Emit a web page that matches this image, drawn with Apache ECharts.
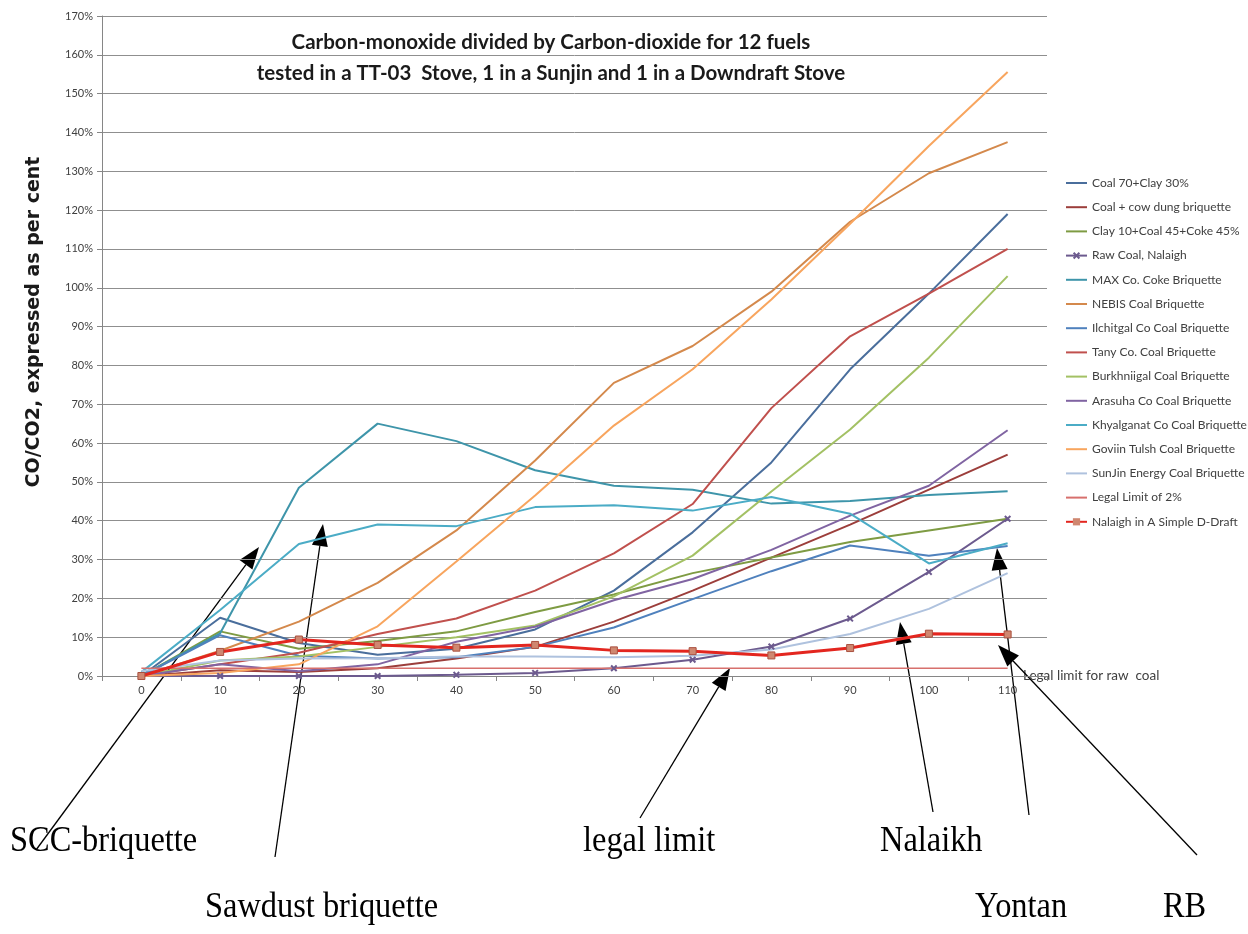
<!DOCTYPE html>
<html>
<head>
<meta charset="utf-8">
<title>CO/CO2 for 12 fuels</title>
<script src="https://cdn.jsdelivr.net/npm/echarts@6/dist/echarts.min.js"></script>
<style>
  html, body { margin: 0; padding: 0; background: #fff; }
  #chart { width: 1248px; height: 934px; }
</style>
</head>
<body>
<div id="chart"></div>
<script>
// x categories (minutes)
const xLabels = ['0', '10', '20', '30', '40', '50', '60', '70', '80', '90', '100', '110']

// CO/CO2 in per cent
const coal70Clay30 = [0, 15, 8.5, 5.5, 7, 12, 22, 37, 55, 79, 98.5, 119]
const coalCowDung = [0, 1.5, 1, 2, 4.5, 7.5, 14, 22, 30.5, 39, 48, 57]
const clay10Coal45 = [0, 11.5, 7, 9, 11.5, 16.5, 21, 26.5, 30.5, 34.5, 37.5, 40.5]
const rawCoal = [0, 0, 0, 0, 0.3, 0.8, 2, 4.2, 7.6, 14.8, 26.8, 40.5]
const maxCoke = [0, 11, 48.5, 65, 60.5, 53, 49, 48, 44.4, 45.1, 46.6, 47.6]
const nebis = [0, 6.5, 14, 24, 37.5, 55.5, 75.5, 85, 99, 117, 129.5, 137.5]
const ilchitgal = [0, 10.5, 5.2, 4.5, 4.8, 7.5, 12.5, 19.8, 27, 33.6, 31, 33.5]
const tany = [0, 3, 6, 10.8, 14.8, 22, 31.6, 44.3, 69, 87.5, 98.5, 110]
const burkhniigal = [0, 4, 5, 7.5, 10, 13, 20.5, 31, 47.5, 63.5, 82, 103]
const arasuha = [0, 3, 1.2, 3, 8.8, 12.7, 19.5, 25, 32.5, 41.3, 49, 63.3]
const khyalganat = [1, 17, 34, 39, 38.6, 43.5, 44, 42.6, 46.1, 41.8, 29, 34.2]
const goviin = [0, 0.8, 3, 12.8, 29.5, 46.5, 64.5, 79, 97, 116.5, 136.5, 155.6]
const sunjin = [1.2, 4, 4.5, 4.6, 5, 5, 4.8, 5.2, 6.8, 10.8, 17.3, 26.5]
const legalLimit = [2, 2, 2, 2, 2, 2, 2, 2, 2, 2, 2, 2]
const nalaighDDraft = [0, 6.2, 9.4, 8, 7.3, 8, 6.6, 6.4, 5.3, 7.2, 10.9, 10.7]

const seriesDefs = [
  { name: 'Coal 70+Clay 30%', data: coal70Clay30, color: '#4A6E9C' },
  { name: 'Coal + cow dung briquette', data: coalCowDung, color: '#9C3E3B' },
  { name: 'Clay 10+Coal 45+Coke 45%', data: clay10Coal45, color: '#7E9B43' },
  { name: 'Raw Coal, Nalaigh', data: rawCoal, color: '#6C5A8E', mark: 'cross' },
  { name: 'MAX Co. Coke Briquette', data: maxCoke, color: '#3E95AA' },
  { name: 'NEBIS Coal Briquette', data: nebis, color: '#D4894C' },
  { name: 'Ilchitgal Co Coal Briquette', data: ilchitgal, color: '#4F81BD' },
  { name: 'Tany Co. Coal Briquette', data: tany, color: '#C0504D' },
  { name: 'Burkhniigal Coal Briquette', data: burkhniigal, color: '#A3C164' },
  { name: 'Arasuha Co Coal Briquette', data: arasuha, color: '#8064A2' },
  { name: 'Khyalganat Co Coal Briquette', data: khyalganat, color: '#4BACC6' },
  { name: 'Goviin Tulsh Coal Briquette', data: goviin, color: '#F8A55E' },
  { name: 'SunJin Energy Coal Briquette', data: sunjin, color: '#AFC2DE' },
  { name: 'Legal Limit of 2%', data: legalLimit, color: '#D7706D', width: 1.5 },
  { name: 'Nalaigh in A Simple D-Draft', data: nalaighDDraft, color: '#E3261F', mark: 'square', width: 3 }
]

// X-shaped marker as a filled path
const crossPath = 'path://M2,0L5,3L8,0L10,2L7,5L10,8L8,10L5,7L2,10L0,8L3,5L0,2Z'

const buildSeries = () => seriesDefs.map(s => {
  const item = {
    name: s.name,
    type: 'line',
    data: s.data,
    symbol: 'none',
    lineStyle: { color: s.color, width: s.width || 2 },
    itemStyle: { color: s.color },
    emphasis: { disabled: true },
    animation: false
  }
  if (s.mark === 'cross') {
    item.symbol = crossPath
    item.symbolSize = 7
    item.showSymbol = true
  }
  if (s.mark === 'square') {
    item.symbol = 'rect'
    item.symbolSize = 7
    item.itemStyle = { color: '#CF8770', borderColor: '#A9503F', borderWidth: 1 }
  }
  return item
})

// legend: plain line for series without markers
const legendData = seriesDefs.map(s => s.mark
  ? { name: s.name }
  : { name: s.name, itemStyle: { opacity: 0 } })

// arrow annotations: tail -> tip
const arrows = [
  [36, 850, 259, 547],
  [275, 857, 323, 524],
  [640, 818, 730, 668],
  [933, 812, 900, 622],
  [1029, 815, 997, 548],
  [1197, 855, 998, 645]
]

const makeArrow = ([x1, y1, x2, y2]) => {
  const len = 22
  const half = 8
  const dx = x2 - x1
  const dy = y2 - y1
  const d = Math.sqrt(dx * dx + dy * dy)
  const ux = dx / d
  const uy = dy / d
  const bx = x2 - ux * len
  const by = y2 - uy * len
  return [
    {
      type: 'line',
      shape: { x1, y1, x2: bx, y2: by },
      style: { stroke: '#000', lineWidth: 1.3 }
    },
    {
      type: 'polygon',
      shape: { points: [[x2, y2], [bx - uy * half, by + ux * half], [bx + uy * half, by - ux * half]] },
      style: { fill: '#000' }
    }
  ]
}

const serifLabel = (text, x, y) => ({
  type: 'text',
  x,
  y,
  scaleX: 0.9,
  style: {
    text,
    font: '36px "Liberation Serif", "Times New Roman", serif',
    fill: '#000',
    verticalAlign: 'middle'
  }
})

const chart = echarts.init(document.getElementById('chart'))

const option = {
  animation: false,
  backgroundColor: '#fff',
  textStyle: { fontFamily: 'Lato, "Open Sans", sans-serif' },
  grid: { left: 102, right: 201, top: 16, bottom: 258, containLabel: false },
  legend: {
    orient: 'vertical',
    left: 1060,
    top: 172,
    itemWidth: 21,
    itemHeight: 9,
    itemGap: 12.2,
    itemStyle: { borderWidth: 0 },
    textStyle: { fontSize: 12, color: '#404040', fontFamily: 'Lato' },
    data: legendData
  },
  xAxis: {
    type: 'category',
    data: xLabels,
    boundaryGap: true,
    axisLine: { lineStyle: { color: '#868686' } },
    axisTick: { show: true, length: 5, lineStyle: { color: '#868686' } },
    axisLabel: { fontSize: 11, color: '#404040', margin: 9 },
    splitLine: { show: false }
  },
  yAxis: {
    type: 'value',
    min: 0,
    max: 170,
    interval: 10,
    axisLine: { show: true, lineStyle: { color: '#868686' } },
    axisTick: { show: true, length: 5, lineStyle: { color: '#868686' } },
    axisLabel: { formatter: '{value}%', fontSize: 11, color: '#404040', margin: 9 },
    splitLine: { lineStyle: { color: '#8F8F8F', width: 1 } }
  },
  series: buildSeries(),
  graphic: [
    {
      type: 'text',
      x: 551,
      y: 42,
      style: {
        text: 'Carbon-monoxide divided by Carbon-dioxide for 12 fuels',
        font: 'bold 20.5px Lato, sans-serif',
        fill: '#1a1a1a',
        align: 'center',
        verticalAlign: 'middle'
      }
    },
    {
      type: 'text',
      x: 551,
      y: 73,
      style: {
        text: 'tested in a TT-03  Stove, 1 in a Sunjin and 1 in a Downdraft Stove',
        font: 'bold 20.5px Lato, sans-serif',
        fill: '#1a1a1a',
        align: 'center',
        verticalAlign: 'middle'
      }
    },
    {
      type: 'text',
      x: 34,
      y: 322,
      rotation: Math.PI / 2,
      style: {
        text: 'CO/CO2, expressed as per cent',
        font: 'bold 19px "DejaVu Sans", sans-serif',
        fill: '#1a1a1a',
        align: 'center',
        verticalAlign: 'middle'
      }
    },
    {
      type: 'text',
      x: 1023,
      y: 676,
      style: {
        text: 'Legal limit for raw  coal',
        font: '13.5px Lato, sans-serif',
        fill: '#404040',
        verticalAlign: 'middle'
      }
    },
    serifLabel('SCC-briquette', 10, 842),
    serifLabel('Sawdust briquette', 205, 908),
    serifLabel('legal limit', 583, 842),
    serifLabel('Nalaikh', 880, 842),
    serifLabel('Yontan', 975, 908),
    serifLabel('RB', 1163, 908),
    ...arrows.flatMap(makeArrow)
  ]
}

chart.setOption(option)
</script>
</body>
</html>
